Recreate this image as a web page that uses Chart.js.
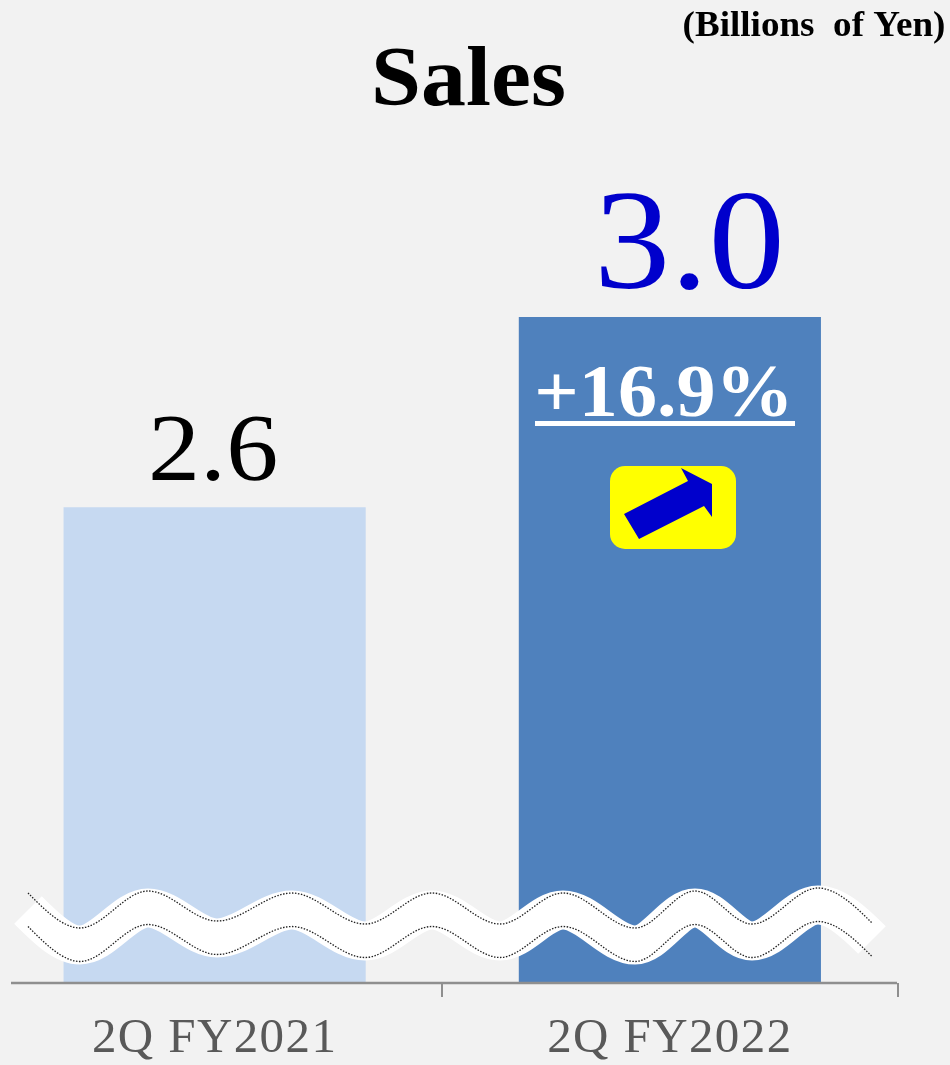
<!DOCTYPE html>
<html>
<head>
<meta charset="utf-8">
<title>Sales</title>
<script src="https://cdn.jsdelivr.net/npm/chart.js@4"></script>
<style>
    html, body { margin: 0; padding: 0; background: #f2f2f2; overflow: hidden; }
    body { width: 950px; height: 1065px; position: relative; }
    #chart1 { position: absolute; left: -13px; top: 0; }
</style>
</head>
<body>
<canvas id="chart1" width="963" height="1065"></canvas>
<script>
// Chart data
const categories = ['2Q FY2021', '2Q FY2022'];
const salesValues = [2.6, 3.0];
const valueLabels = ['2.6', '3.0'];
const barColors = ['#c6d9f1', '#4f81bd'];
const changeLabel = '+16.9%';
const unitLabel = '(Billions  of Yen)';
const titleLabel = 'Sales';

const serif = '"Liberation Serif", "Times New Roman", serif';
const axisColor = '#8f8f8f';

// Break mark: peaks and valleys of the upper dotted line
const waveX = [28, 80, 148, 217, 292, 365, 432, 500, 563, 635, 695, 752, 818, 872];
const waveY = [893, 928, 891, 921, 893, 924, 893, 924, 893, 928, 891, 924, 888, 923];

function wavePath(ctx, offset) {
    ctx.beginPath();
    ctx.moveTo(waveX[0], waveY[0] + offset);
    for (let i = 1; i < waveX.length; i++) {
        const dx = waveX[i] - waveX[i - 1];
        let c1x = waveX[i - 1] + dx * 0.34, c1y = waveY[i - 1];
        let c2x = waveX[i] - dx * 0.34, c2y = waveY[i];
        // both ends of the ribbon leave at 45 degrees
        if (i === 1) { c1x = waveX[0] + dx * 0.3; c1y = waveY[0] + dx * 0.3; }
        if (i === waveX.length - 1) { c2x = waveX[i] - dx * 0.3; c2y = waveY[i] - dx * 0.3; }
        ctx.bezierCurveTo(c1x, c1y + offset, c2x, c2y + offset, waveX[i], waveY[i] + offset);
    }
}

// The original text is a little wider than the font, so stretch it
function wideText(ctx, text, x, y, font, stretch, color) {
    ctx.save();
    ctx.translate(x, y);
    ctx.scale(stretch, 1);
    ctx.font = font;
    ctx.fillStyle = color;
    ctx.textAlign = 'center';
    ctx.textBaseline = 'alphabetic';
    ctx.fillText(text, 0, 0);
    ctx.restore();
}

// Everything the library does not draw by itself
const extras = {
    id: 'extras',
    beforeDraw(chart) {
        chart.ctx.letterSpacing = '1.4px'; // for the tick labels
    },
    beforeDatasetsDraw(chart) {
        chart.ctx.letterSpacing = '0px';
    },
    afterDraw(chart) {
        const ctx = chart.ctx;
        const bars = chart.getDatasetMeta(0).data;
        ctx.save();
        ctx.translate(13, 0); // page coordinates from here on

        // axis line
        const base = chart.chartArea.bottom;
        ctx.strokeStyle = axisColor;
        ctx.lineWidth = 2.5;
        ctx.beginPath();
        ctx.moveTo(11, base);
        ctx.lineTo(897, base);
        ctx.stroke();

        // title and unit
        wideText(ctx, titleLabel, 468.5, 105, 'bold 84px ' + serif, 1.07, '#000000');
        wideText(ctx, unitLabel, 814, 36, 'bold 35px ' + serif, 1.06, '#000000');

        // value labels
        wideText(ctx, valueLabels[0], bars[0].x - 13 - 1.5, bars[0].y - 27, '96px ' + serif, 1.085, '#000000');
        wideText(ctx, valueLabels[1], bars[1].x - 13 + 19.5, bars[1].y - 29, '142px ' + serif, 1.075, '#0000cc');

        // change label and underline
        wideText(ctx, changeLabel, 664, 416, 'bold 73px ' + serif, 1.07, '#ffffff');
        ctx.fillStyle = '#ffffff';
        ctx.fillRect(535, 421, 260, 5);

        // yellow box with arrow
        ctx.fillStyle = '#ffff00';
        ctx.beginPath();
        ctx.roundRect(610, 466, 126, 83, 15);
        ctx.fill();
        ctx.fillStyle = '#0000cc';
        ctx.beginPath();
        ctx.moveTo(624, 514);
        ctx.lineTo(688, 481);
        ctx.lineTo(681, 468);
        ctx.lineTo(712, 484);
        ctx.lineTo(712, 517);
        ctx.lineTo(704, 506);
        ctx.lineTo(639, 539);
        ctx.closePath();
        ctx.fill();

        // break mark
        ctx.strokeStyle = '#ffffff';
        ctx.lineWidth = 39;
        ctx.lineJoin = 'round';
        wavePath(ctx, 17);
        ctx.stroke();
        ctx.strokeStyle = '#222222';
        ctx.lineWidth = 1.3;
        ctx.setLineDash([1.5, 1.5]);
        wavePath(ctx, 0);
        ctx.stroke();
        wavePath(ctx, 33.5);
        ctx.stroke();
        ctx.restore();
    }
};

const ctx1 = document.getElementById('chart1').getContext('2d');
const chart1 = new Chart(ctx1, {
    type: 'bar',
    data: {
        labels: categories,
        datasets: [{
            data: salesValues,
            backgroundColor: barColors,
            barPercentage: 0.6637,
            categoryPercentage: 1
        }]
    },
    options: {
        responsive: false,
        animation: false,
        layout: { padding: { left: 0, right: 52.5, top: 317, bottom: 0 } },
        plugins: {
            legend: { display: false },
            tooltip: { enabled: false }
        },
        scales: {
            x: {
                afterFit(scale) { scale.height = 82; },
                border: { display: false },
                grid: { drawOnChartArea: false, color: axisColor, lineWidth: 2, tickLength: 14 },
                ticks: {
                    color: '#595959',
                    font: { family: serif, size: 49 },
                    padding: 13,
                    maxRotation: 0,
                    autoSkip: false
                }
            },
            y: { display: false, min: 1.6, max: 3.0 }
        }
    },
    plugins: [extras]
});
</script>
</body>
</html>
